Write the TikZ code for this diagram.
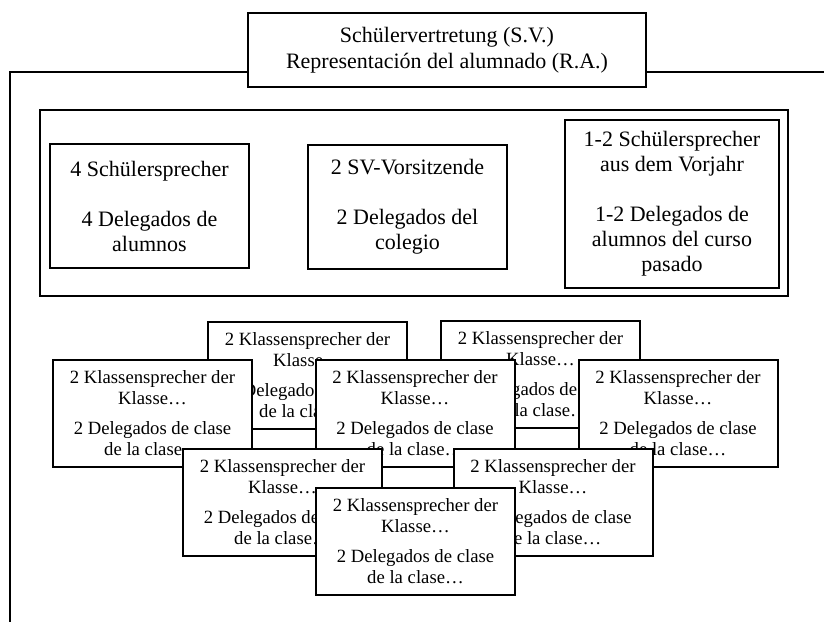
\documentclass[tikz,border=0pt]{standalone}
\usepackage{fontspec}
\setmainfont{Liberation Serif}
\begin{document}
\begin{tikzpicture}[x=1pt,y=-1pt,
  frame/.style={draw=black,line width=2pt},
  bigbox/.style={draw=black,line width=2pt,fill=white,inner sep=0pt,align=center,
    font=\fontsize{22}{25}\selectfont},
  classbox/.style={draw=black,line width=2pt,fill=white,inner sep=0pt,align=center,
    minimum width=199pt,minimum height=107pt,font=\fontsize{18.7}{21}\selectfont}]
\useasboundingbox (0,0) rectangle (824,621);
\clip (0,0) rectangle (824,621);
% outer frame (extends beyond the picture)
\draw[frame] (10,72) rectangle (850,660);
% title
\node[bigbox,minimum width=398pt,minimum height=74pt,font=\fontsize{22}{26}\selectfont]
  (title) at (447,50) {Schülervertretung (S.V.)\\Representación del alumnado (R.A.)};
% inner group
\node[draw=black,line width=2pt,minimum width=748pt,minimum height=186pt,inner sep=0pt]
  (group) at (414,203) {};
\node[bigbox,minimum width=199pt,minimum height=124pt] (b1) at (149.5,206)
  {4 Schülersprecher\\[25pt]4 Delegados de\\alumnos};
\node[bigbox,minimum width=199pt,minimum height=124pt] (b2) at (407.5,207)
  {2 SV-Vorsitzende\\[25pt]2 Delegados del\\colegio};
\node[bigbox,minimum width=214pt,minimum height=168pt] (b3) at (672,204)
  {1-2 Schülersprecher\\aus dem Vorjahr\\[25pt]1-2 Delegados de\\alumnos del curso\\pasado};
% class representative cards (back to front)
\newcommand{\cardtext}{2 Klassensprecher der\\Klasse…\\[9pt]2 Delegados de clase\\de la clase…}
\node[classbox] (cA) at (307.5,375) {\cardtext};
\node[classbox] (cD) at (540.5,374.5) {\cardtext};
\node[classbox] (cB) at (152.5,413.5) {\cardtext};
\node[classbox] (cC) at (415,413.5) {\cardtext};
\node[classbox] (cE) at (678,413.5) {\cardtext};
\node[classbox] (cF) at (282.5,502.5) {\cardtext};
\node[classbox] (cG) at (553,502.5) {\cardtext};
\node[classbox] (cH) at (415.5,541.5) {\cardtext};
\end{tikzpicture}
\end{document}
